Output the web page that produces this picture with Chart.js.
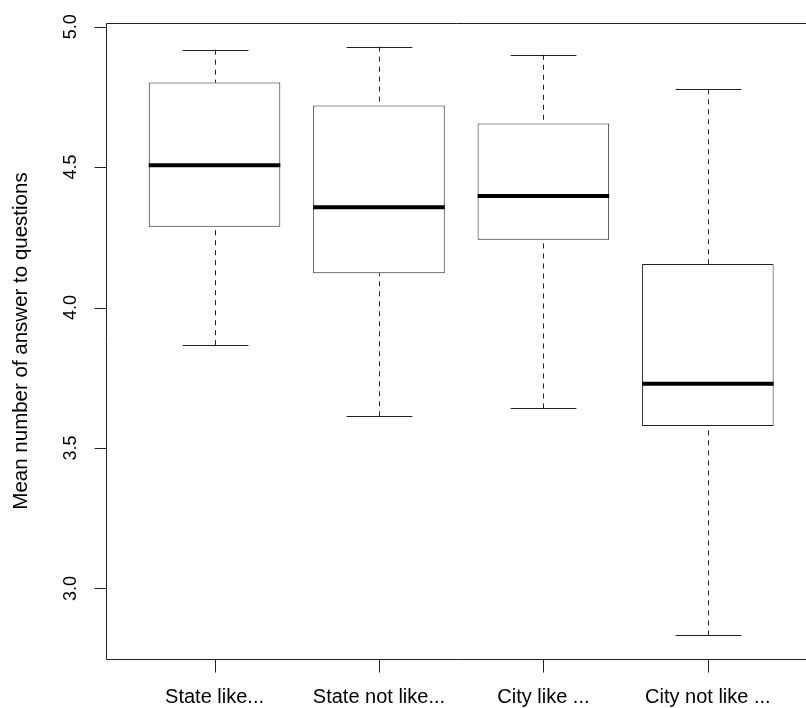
<!DOCTYPE html>
<html><head><meta charset="utf-8">
<script src="https://cdn.jsdelivr.net/npm/chart.js@4.4.0/dist/chart.umd.min.js"></script>
<style>html,body{margin:0;padding:0;background:#fff;}canvas{display:block;}</style>
</head><body>
<canvas id="c" width="806" height="708"></canvas>
<script>
const categories = ["State like...", "State not like...", "City like ...", "City not like ..."];
const whiskerLow  = [3.866, 3.613, 3.641, 2.833];
const q1          = [4.288, 4.122, 4.241, 3.578];
const median      = [4.507, 4.357, 4.397, 3.729];
const q3          = [4.801, 4.719, 4.655, 4.155];
const whiskerHigh = [4.918, 4.929, 4.900, 4.777];
const xPositions  = [1, 2, 3, 4];
const yTicks      = [3.0, 3.5, 4.0, 4.5, 5.0];
const yTickLabels = ["3.0", "3.5", "4.0", "4.5", "5.0"];
const yTitle = "Mean number of answer to questions";

const FONT = '"Liberation Sans", Arial, Helvetica, sans-serif';
const LINE = '#222';

function seg(ctx, x1, y1, x2, y2) {
  ctx.beginPath(); ctx.moveTo(x1, y1); ctx.lineTo(x2, y2); ctx.stroke();
}

const rBoxPlugin = {
  id: 'rBox',
  afterDatasetsDraw(chart) {
    const ctx = chart.ctx, xs = chart.scales.x, ys = chart.scales.y;
    const meta = chart.getDatasetMeta(0);
    const ca = chart.chartArea;
    ctx.save();
    meta.data.forEach((bar, i) => {
      const cx = Math.round(xs.getPixelForValue(xPositions[i])) + 0.5;
      const half = bar.width / 2;
      const yLo = ys.getPixelForValue(whiskerLow[i]);
      const yQ1 = ys.getPixelForValue(q1[i]);
      const yMed = ys.getPixelForValue(median[i]);
      const yQ3 = ys.getPixelForValue(q3[i]);
      const yHi = ys.getPixelForValue(whiskerHigh[i]);
      ctx.strokeStyle = LINE; ctx.lineWidth = 1;
      ctx.setLineDash([5, 5]);
      seg(ctx, cx, yHi, cx, yQ3);
      seg(ctx, cx, yLo, cx, yQ1);
      ctx.setLineDash([]);
      seg(ctx, cx - half / 2, Math.round(yHi) + 0.5, cx + half / 2, Math.round(yHi) + 0.5);
      seg(ctx, cx - half / 2, Math.round(yLo) + 0.5, cx + half / 2, Math.round(yLo) + 0.5);
      ctx.strokeStyle = '#000'; ctx.lineWidth = 4;
      seg(ctx, bar.x - half, yMed, bar.x + half, yMed);
    });
    // frame
    ctx.strokeStyle = LINE; ctx.lineWidth = 1;
    const L = Math.round(ca.left) + 0.5, T = Math.round(ca.top) + 0.5, B = Math.round(ca.bottom) + 0.5;
    ctx.beginPath();
    ctx.moveTo(chart.width + 2, T); ctx.lineTo(L, T); ctx.lineTo(L, B); ctx.lineTo(chart.width + 2, B);
    ctx.stroke();
    // y ticks and labels
    ctx.fillStyle = '#000';
    ctx.font = '18px ' + FONT;
    yTicks.forEach((v, k) => {
      const y = Math.round(ys.getPixelForValue(v)) + 0.5;
      seg(ctx, L - 12, y, L, y);
      ctx.save();
      ctx.translate(76, ys.getPixelForValue(v));
      ctx.rotate(-Math.PI / 2);
      ctx.textAlign = 'center'; ctx.textBaseline = 'alphabetic';
      ctx.fillText(yTickLabels[k], 0, 0);
      ctx.restore();
    });
    // x ticks and labels
    ctx.font = '20px ' + FONT;
    categories.forEach((c, i) => {
      const x = Math.round(xs.getPixelForValue(xPositions[i])) + 0.5;
      seg(ctx, x, B, x, B + 13);
      ctx.textAlign = 'center'; ctx.textBaseline = 'alphabetic';
      ctx.fillText(c, xs.getPixelForValue(xPositions[i]), 703);
    });
    // y title
    ctx.font = '20.5px ' + FONT;
    ctx.save();
    ctx.translate(27, (ca.top + ca.bottom) / 2);
    ctx.rotate(-Math.PI / 2);
    ctx.textAlign = 'center'; ctx.textBaseline = 'alphabetic';
    ctx.fillText(yTitle, 0, 0);
    ctx.restore();
    ctx.restore();
  }
};

new Chart(document.getElementById('c'), {
  type: 'bar',
  data: {
    datasets: [{
      data: categories.map((c, i) => ({ x: xPositions[i], y: [q1[i], q3[i]] })),
      backgroundColor: '#ffffff',
      borderColor: LINE,
      borderWidth: 1,
      borderSkipped: false,
      categoryPercentage: 0.8,
      barPercentage: 1.0
    }]
  },
  options: {
    responsive: false,
    animation: false,
    devicePixelRatio: 1,
    layout: { padding: { left: 106, top: 23, right: 0, bottom: 49 } },
    plugins: { legend: { display: false }, tooltip: { enabled: false } },
    scales: {
      x: {
        type: 'linear', min: 0.34, max: 4.597, offset: false, display: false,
        afterBuildTicks: (scale) => { scale.ticks = xPositions.map(v => ({ value: v })); }
      },
      y: { type: 'linear', min: 2.749, max: 5.013, display: false }
    }
  },
  plugins: [rBoxPlugin]
});
</script>
</body></html>
